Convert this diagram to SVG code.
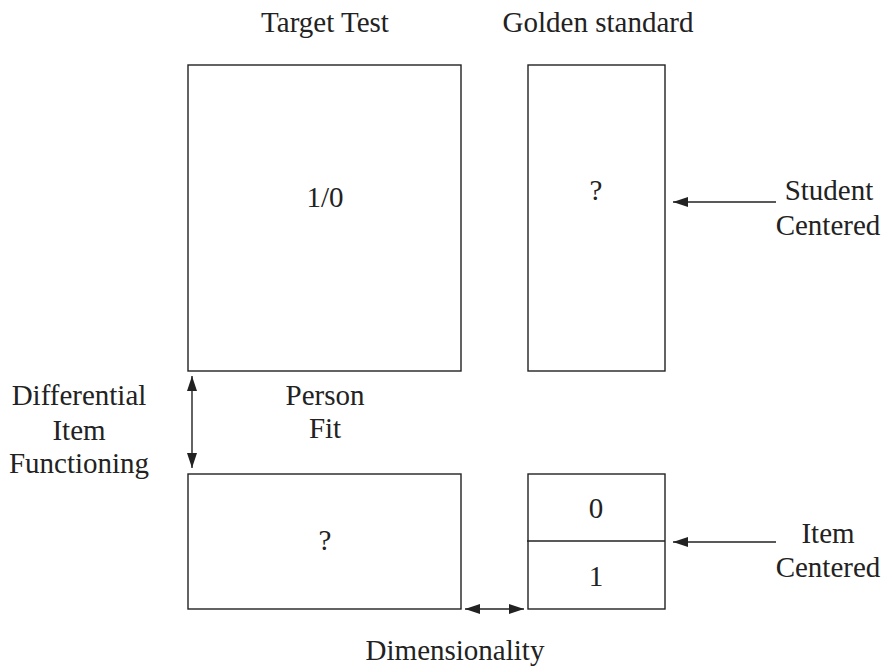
<svg xmlns="http://www.w3.org/2000/svg" width="892" height="667" viewBox="0 0 892 667">
  <style>
    .box { fill: #fff; stroke: #222; stroke-width: 1.4; }
    .ln { stroke: #222; stroke-width: 1.4; fill: none; }
    .t { font-family: 'Liberation Serif', 'Times New Roman', Times, serif; font-size: 29px; fill: #222; text-anchor: middle; }
  </style>
  <defs>
    <marker id="ah" viewBox="0 0 15 11" refX="15" refY="5.5" markerWidth="15" markerHeight="11" markerUnits="userSpaceOnUse" orient="auto-start-reverse">
      <path d="M0,0.5 L15,5.5 L0,10.5 Z" fill="#222"/>
    </marker>
  </defs>

  <rect width="892" height="667" fill="#fff"/>

  <text class="t" x="325" y="32">Target Test</text>
  <text class="t" x="598" y="32">Golden standard</text>

  <g id="target-test">
    <rect class="box" x="188" y="65" width="273" height="306"/>
    <text class="t" x="325" y="207">1/0</text>
  </g>

  <g id="golden-standard">
    <rect class="box" x="528" y="65" width="137" height="306"/>
    <text class="t" x="596" y="200">?</text>
  </g>

  <g id="unknown-block">
    <rect class="box" x="188" y="474" width="273" height="135"/>
    <text class="t" x="325" y="550">?</text>
  </g>

  <g id="item-block">
    <rect class="box" x="528" y="474" width="137" height="135"/>
    <line class="ln" x1="527" y1="541" x2="665" y2="541"/>
    <text class="t" x="596" y="518">0</text>
    <text class="t" x="596" y="586">1</text>
  </g>

  <g id="labels">
    <text class="t" x="325" y="405">Person</text>
    <text class="t" x="325" y="438">Fit</text>
    <text class="t" x="79" y="405">Differential</text>
    <text class="t" x="79" y="440">Item</text>
    <text class="t" x="79" y="473">Functioning</text>
    <text class="t" x="829" y="200">Student</text>
    <text class="t" x="828" y="235">Centered</text>
    <text class="t" x="828" y="543">Item</text>
    <text class="t" x="828" y="577">Centered</text>
    <text class="t" x="455" y="660">Dimensionality</text>
  </g>

  <g id="connectors">
    <line class="ln" x1="673" y1="202" x2="776" y2="202" marker-start="url(#ah)"/>
    <line class="ln" x1="673" y1="542" x2="776" y2="542" marker-start="url(#ah)"/>
    <line class="ln" x1="465" y1="609" x2="524" y2="609" marker-start="url(#ah)" marker-end="url(#ah)"/>
    <line class="ln" x1="192" y1="376" x2="192" y2="468" marker-start="url(#ah)" marker-end="url(#ah)"/>
  </g>
</svg>
